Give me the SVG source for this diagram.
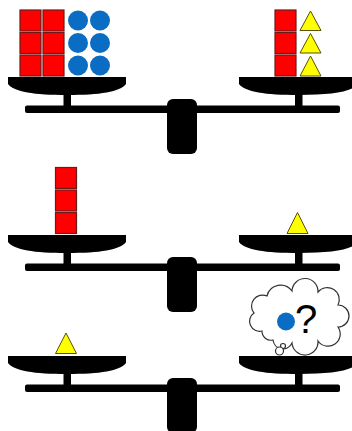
<svg xmlns="http://www.w3.org/2000/svg" width="352" height="431" viewBox="0 0 352 431">
<defs>
<style>
.blk{fill:#000}
.sq{fill:#ff0000;stroke:#6b1a1a;stroke-width:1.2}
.ci{fill:#0a6cc2}
.tr{fill:#ffff00;stroke:#5a5000;stroke-width:1}
.cl{fill:#fff;stroke:#333;stroke-width:1.2}
</style>
<g id="scaleBase">
<path class="blk" d="M8,77 H126 V84 C120,92 100,95 67,95 C34,95 14,92 8,84 Z"/>
<rect class="blk" x="63.5" y="93" width="7.5" height="15"/>
<path class="blk" d="M239,77 H358 V84 C352,92 332,95 298.5,95 C265,95 245,92 239,84 Z"/>
<rect class="blk" x="295" y="93" width="7.5" height="15"/>
<rect class="blk" x="25" y="105.5" width="315" height="7.5" rx="2"/>
<rect class="blk" x="167" y="99" width="30" height="55" rx="6"/>
</g>
</defs>
<rect width="352" height="431" fill="#fff"/>

<g id="scale1">
<use href="#scaleBase"/>
<g id="s1-left">
<rect class="sq" x="20" y="10" width="21" height="21"/>
<rect class="sq" x="43" y="10" width="21" height="21"/>
<rect class="sq" x="20" y="32.5" width="21" height="21"/>
<rect class="sq" x="43" y="32.5" width="21" height="21"/>
<rect class="sq" x="20" y="55" width="21" height="21"/>
<rect class="sq" x="43" y="55" width="21" height="21"/>
<circle class="ci" cx="78" cy="20.5" r="10"/>
<circle class="ci" cx="100" cy="20.5" r="10"/>
<circle class="ci" cx="78" cy="43" r="10"/>
<circle class="ci" cx="100" cy="43" r="10"/>
<circle class="ci" cx="78" cy="65.5" r="10"/>
<circle class="ci" cx="100" cy="65.5" r="10"/>
</g>
<g id="s1-right">
<rect class="sq" x="275" y="10" width="21" height="21"/>
<rect class="sq" x="275" y="32.5" width="21" height="21"/>
<rect class="sq" x="275" y="55" width="21" height="21"/>
<polygon class="tr" points="310.5,11 321,30.5 300,30.5"/>
<polygon class="tr" points="310.5,33.5 321,53 300,53"/>
<polygon class="tr" points="310.5,56 321,76 300,76"/>
</g>
</g>

<g id="scale2">
<use href="#scaleBase" transform="translate(0,158)"/>
<g id="s2-left">
<rect class="sq" x="55.5" y="167.5" width="21" height="21"/>
<rect class="sq" x="55.5" y="190" width="21" height="21"/>
<rect class="sq" x="55.5" y="212.5" width="21" height="21"/>
</g>
<g id="s2-right">
<polygon class="tr" points="297.5,212.5 308,233.5 287,233.5"/>
</g>
</g>

<g id="scale3">
<use href="#scaleBase" transform="translate(0,279)"/>
<g id="s3-left">
<polygon class="tr" points="66,333 76.5,353.5 55.5,353.5"/>
</g>
<g id="s3-right">
<path class="cl" d="M262,331 A10 10 0 0 1 254,313 A11 11 0 0 1 267,296 A14 14 0 0 1 292,291 A13 13 0 0 1 318,292 A12 12 0 0 1 338,305 A11 11 0 0 1 338,327 A12 12 0 0 1 318,341 A13 13 0 0 1 292,343 A10 10 0 0 1 273,340 A9 9 0 0 1 262,331 Z"/>
<circle class="cl" cx="283" cy="346" r="2.5"/>
<circle class="cl" cx="279.5" cy="351" r="4"/>
<circle class="ci" cx="286" cy="321.5" r="9"/>
<text x="295" y="333" font-family="Liberation Sans, Arial, sans-serif" font-size="40" fill="#000">?</text>
</g>
</g>
</svg>
